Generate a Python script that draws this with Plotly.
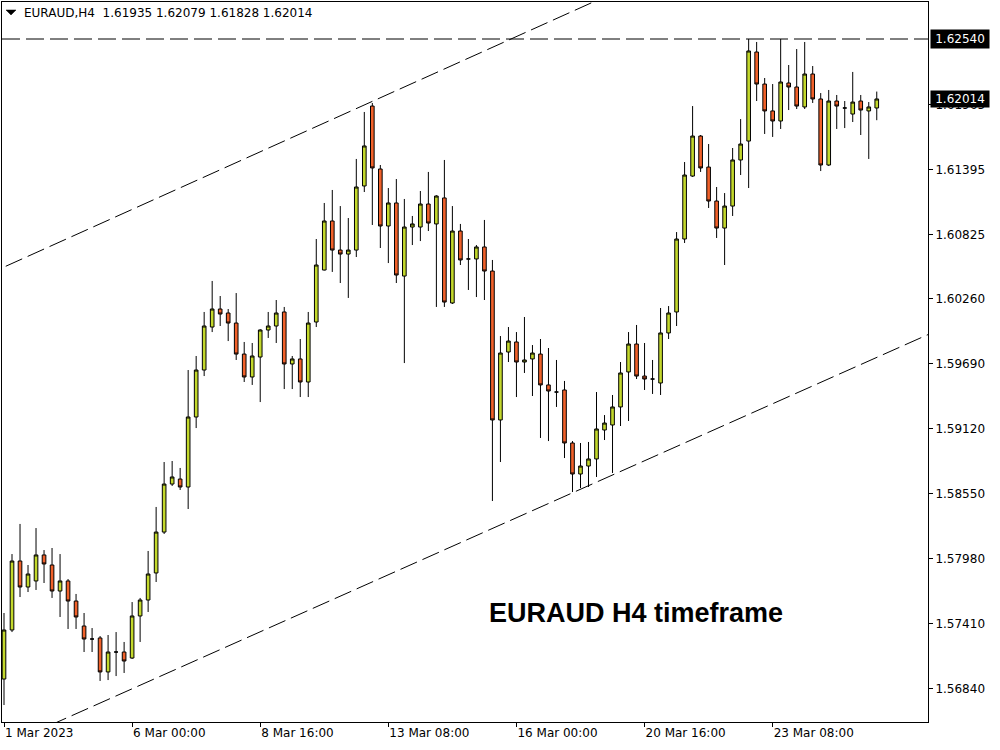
import datetime as dt
import plotly.graph_objects as go

# ---------------- data ----------------
symbol = "EURAUD,H4"
first_bar = dt.datetime(2023, 3, 1, 8, 0)
n_bars = 110

opens = [1.56927, 1.57357, 1.57962, 1.57734, 1.57787, 1.58015, 1.57927, 1.57699, 1.57787, 1.57611,
         1.57392, 1.57278, 1.57287, 1.56989, 1.57164, 1.57164, 1.57111, 1.57480, 1.57620, 1.57857,
         1.58216, 1.58637, 1.58681, 1.58611, 1.59225, 1.59637, 1.60014, 1.60172, 1.60137, 1.60049,
         1.59777, 1.59576, 1.59751, 1.59988, 1.60023, 1.60146, 1.59690, 1.59734, 1.59532, 1.60058,
         1.60514, 1.60944, 1.60689, 1.60654, 1.60689, 1.61251, 1.61952, 1.61400, 1.60900, 1.61102,
         1.60461, 1.60891, 1.60891, 1.61093, 1.60918, 1.61146, 1.60225, 1.60856, 1.60611, 1.60611,
         1.60716, 1.60505, 1.59199, 1.59795, 1.59883, 1.59707, 1.59734, 1.59777, 1.59506, 1.59444,
         1.59462, 1.58997, 1.58725, 1.58795, 1.58857, 1.59111, 1.59155, 1.59313, 1.59620, 1.59865,
         1.59584, 1.59558, 1.59523, 1.59962, 1.60146, 1.60786, 1.61338, 1.61689, 1.61417, 1.61119,
         1.60882, 1.61075, 1.61479, 1.61645, 1.62426, 1.62145, 1.61909, 1.61821, 1.62154, 1.62119,
         1.61944, 1.62233, 1.62014, 1.61435, 1.61996, 1.61935, 1.61882, 1.61996, 1.61909, 1.61935]
highs = [1.57506, 1.58023, 1.58287, 1.57927, 1.58251, 1.58058, 1.58076, 1.58023, 1.57804, 1.57673,
         1.57506, 1.57374, 1.57304, 1.57313, 1.57339, 1.57252, 1.57602, 1.57638, 1.58050, 1.58436,
         1.58830, 1.58839, 1.58778, 1.59637, 1.59760, 1.60146, 1.60418, 1.60286, 1.60172, 1.60312,
         1.59883, 1.59874, 1.59995, 1.60146, 1.60251, 1.60190, 1.59760, 1.59909, 1.60146, 1.60786,
         1.61102, 1.61216, 1.61075, 1.60970, 1.61488, 1.61900, 1.61979, 1.61435, 1.61233, 1.61312,
         1.61137, 1.60988, 1.61207, 1.61374, 1.61170, 1.61479, 1.61075, 1.60918, 1.60786, 1.60733,
         1.60953, 1.60602, 1.59935, 1.60014, 1.59970, 1.60102, 1.59856, 1.59909, 1.59830, 1.59725,
         1.59541, 1.59014, 1.58997, 1.59006, 1.59444, 1.59242, 1.59418, 1.59707, 1.59970, 1.60032,
         1.59874, 1.59725, 1.60181, 1.60198, 1.60847, 1.61461, 1.61952, 1.61698, 1.61619, 1.61242,
         1.61189, 1.61584, 1.61838, 1.62540, 1.62514, 1.62198, 1.62145, 1.62540, 1.62312, 1.62452,
         1.62514, 1.62303, 1.62066, 1.62093, 1.62049, 1.61996, 1.62251, 1.62049, 1.61987, 1.62079]
lows = [1.56699, 1.57339, 1.57646, 1.57690, 1.57708, 1.57769, 1.57638, 1.57471, 1.57366, 1.57366,
        1.57164, 1.57164, 1.56910, 1.56918, 1.56953, 1.56980, 1.57103, 1.57252, 1.57515, 1.57778,
        1.58199, 1.58620, 1.58585, 1.58418, 1.59128, 1.59584, 1.59970, 1.60023, 1.59891, 1.59725,
        1.59532, 1.59506, 1.59356, 1.59918, 1.59874, 1.59470, 1.59470, 1.59400, 1.59400, 1.60014,
        1.60510, 1.60497, 1.60400, 1.60269, 1.60628, 1.61198, 1.60909, 1.60707, 1.60575, 1.60400,
        1.59698, 1.60733, 1.60768, 1.60856, 1.60190, 1.60190, 1.60216, 1.60558, 1.60339, 1.60277,
        1.60251, 1.58488, 1.58830, 1.59707, 1.59400, 1.59611, 1.59409, 1.59041, 1.59014, 1.59313,
        1.58865, 1.58567, 1.58602, 1.58611, 1.58699, 1.59023, 1.58734, 1.59146, 1.59190, 1.59558,
        1.59462, 1.59427, 1.59418, 1.59909, 1.60023, 1.60751, 1.61330, 1.61374, 1.61058, 1.60795,
        1.60558, 1.60988, 1.61347, 1.61233, 1.61996, 1.61707, 1.61681, 1.61751, 1.61917, 1.61926,
        1.61926, 1.61979, 1.61382, 1.61426, 1.61751, 1.61759, 1.61812, 1.61698, 1.61488, 1.61828]
closes = [1.57357, 1.57962, 1.57734, 1.57848, 1.58015, 1.57936, 1.57699, 1.57787, 1.57611, 1.57471,
          1.57278, 1.57278, 1.56989, 1.57164, 1.57164, 1.57085, 1.57480, 1.57620, 1.57848, 1.58216,
          1.58637, 1.58699, 1.58611, 1.59225, 1.59637, 1.60023, 1.60172, 1.60128, 1.60049, 1.59777,
          1.59576, 1.59760, 1.59988, 1.60023, 1.60137, 1.59690, 1.59734, 1.59532, 1.60049, 1.60558,
          1.60944, 1.60689, 1.60654, 1.60689, 1.61242, 1.61602, 1.61409, 1.60900, 1.61102, 1.60470,
          1.60891, 1.60918, 1.61093, 1.60926, 1.61163, 1.60233, 1.60856, 1.60602, 1.60611, 1.60716,
          1.60505, 1.59199, 1.59786, 1.59891, 1.59707, 1.59725, 1.59786, 1.59506, 1.59453, 1.59444,
          1.58997, 1.58725, 1.58795, 1.58857, 1.59120, 1.59172, 1.59313, 1.59611, 1.59865, 1.59584,
          1.59558, 1.59558, 1.59962, 1.60137, 1.60786, 1.61347, 1.61689, 1.61409, 1.61119, 1.60882,
          1.61075, 1.61479, 1.61619, 1.62435, 1.62145, 1.61909, 1.61821, 1.62163, 1.62119, 1.61952,
          1.62233, 1.62014, 1.61435, 1.61996, 1.61952, 1.61935, 1.61987, 1.61917, 1.61944, 1.62014]

# time axis labels (MT4 style)
tick_times = ["2023-03-01 08:00", "2023-03-06 00:00", "2023-03-08 16:00", "2023-03-13 08:00",
              "2023-03-16 00:00", "2023-03-20 16:00", "2023-03-23 08:00"]
tick_texts = ["1 Mar 2023", "6 Mar 00:00", "8 Mar 16:00", "13 Mar 08:00",
              "16 Mar 00:00", "20 Mar 16:00", "23 Mar 08:00"]

# price scale labels
price_ticks = [1.56840, 1.57410, 1.57980, 1.58550, 1.59120, 1.59690, 1.60260, 1.60825, 1.61395, 1.61965]

# horizontal resistance level and channel lines (bar index, price)
resistance = 1.62540
upper_channel = [(0, 1.60540), (46, 1.61993)]
lower_channel = [(71, 1.58560), (115, 1.59935)]

chart_label = "EURAUD H4 timeframe"

GREEN = "#C3D82C"
RED = "#F1612A"

# ---------------- build ----------------
times = []
t = first_bar
while len(times) < n_bars:
    if t.weekday() < 5:
        times.append(t)
    t += dt.timedelta(hours=4)
time_keys = [tt.strftime("%Y-%m-%d %H:%M") for tt in times]
x = list(range(n_bars))  # bar ordinal (weekend gaps removed, like MT4)
tick_pos = [time_keys.index(k) for k in tick_times]

X_RANGE = [-0.25, 115.4]
Y_RANGE = [1.565501, 1.628645]

fig = go.Figure()
fig.add_trace(go.Candlestick(
    x=x, open=opens, high=highs, low=lows, close=closes,
    increasing=dict(line=dict(color="black", width=1), fillcolor=GREEN),
    decreasing=dict(line=dict(color="black", width=1), fillcolor=RED),
    whiskerwidth=0, hoverinfo="skip", showlegend=False,
))


def extend(p0, p1):
    (xa, ya), (xb, yb) = p0, p1
    k = (yb - ya) / (xb - xa)
    x0, x1 = X_RANGE[0] - 5, X_RANGE[1] + 5
    return x0, ya + k * (x0 - xa), x1, ya + k * (x1 - xa)


dash = "18px,6px"
for line in (upper_channel, lower_channel):
    x0, y0, x1, y1 = extend(*line)
    fig.add_shape(type="line", xref="x", yref="y", x0=x0, y0=y0, x1=x1, y1=y1,
                  line=dict(color="black", width=1, dash=dash), layer="above")
fig.add_shape(type="line", xref="paper", yref="y", x0=0, x1=1, y0=resistance, y1=resistance,
              line=dict(color="black", width=1, dash=dash), layer="above")

# small drop-down triangle before the symbol caption
fig.add_shape(type="path", xref="paper", yref="paper",
              path="M 0.00432 0.98889 L 0.01512 0.98889 L 0.00972 0.98194 Z",
              fillcolor="black", line=dict(color="black", width=0.5), layer="above")

annotations = [
    dict(x=0.0213, y=0.9845, xref="paper", yref="paper",
         text=f"{symbol}\u00a0\u00a0{opens[-1]:.5f} {highs[-1]:.5f} {lows[-1]:.5f} {closes[-1]:.5f}",
         showarrow=False, xanchor="left", yanchor="middle",
         font=dict(size=12, color="black", family="DejaVu Sans")),
    dict(x=1, xref="paper", xshift=2, y=resistance, yref="y", text=f"{resistance:.5f}",
         showarrow=False, xanchor="left", yanchor="middle", bgcolor="black",
         font=dict(size=12, color="white", family="DejaVu Sans"), width=56, height=16, borderpad=1),
    dict(x=1, xref="paper", xshift=2, y=closes[-1], yref="y", text=f"{closes[-1]:.5f}",
         showarrow=False, xanchor="left", yanchor="middle", bgcolor="black",
         font=dict(size=12, color="white", family="DejaVu Sans"), width=56, height=14, borderpad=1),
    dict(x=0.6847, y=0.1514, xref="paper", yref="paper", text=f"<b>{chart_label}</b>",
         showarrow=False, xanchor="center", yanchor="middle",
         font=dict(size=27, color="black", family="Liberation Sans")),
]

fig.update_layout(
    width=1000, height=750,
    margin=dict(l=2, r=72, t=2, b=28, autoexpand=False),
    paper_bgcolor="white", plot_bgcolor="white",
    font=dict(family="DejaVu Sans", size=12, color="black"),
    showlegend=False, boxgap=0.35,
    annotations=annotations,
)
fig.update_xaxes(
    range=X_RANGE, tickvals=tick_pos, ticktext=tick_texts,
    ticks="outside", ticklen=4, tickcolor="black", tickwidth=1,
    ticklabelposition="outside right",
    showgrid=False, zeroline=False, showline=True, linecolor="black", linewidth=1, mirror=True,
    rangeslider_visible=False, fixedrange=True,
    tickfont=dict(family="DejaVu Sans", size=12, color="black"),
)
fig.update_yaxes(
    side="right", range=Y_RANGE, tickvals=price_ticks, ticktext=[f"{p:.5f}" for p in price_ticks],
    ticks="outside", ticklen=4, tickcolor="black", tickwidth=1,
    showgrid=False, zeroline=False, showline=True, linecolor="black", linewidth=1, mirror=True,
    fixedrange=True,
    tickfont=dict(family="DejaVu Sans", size=12, color="black"),
)

fig.write_html("out.html", config={"displayModeBar": False},
               post_script="document.body.style.margin='0';document.body.style.overflow='hidden';")
